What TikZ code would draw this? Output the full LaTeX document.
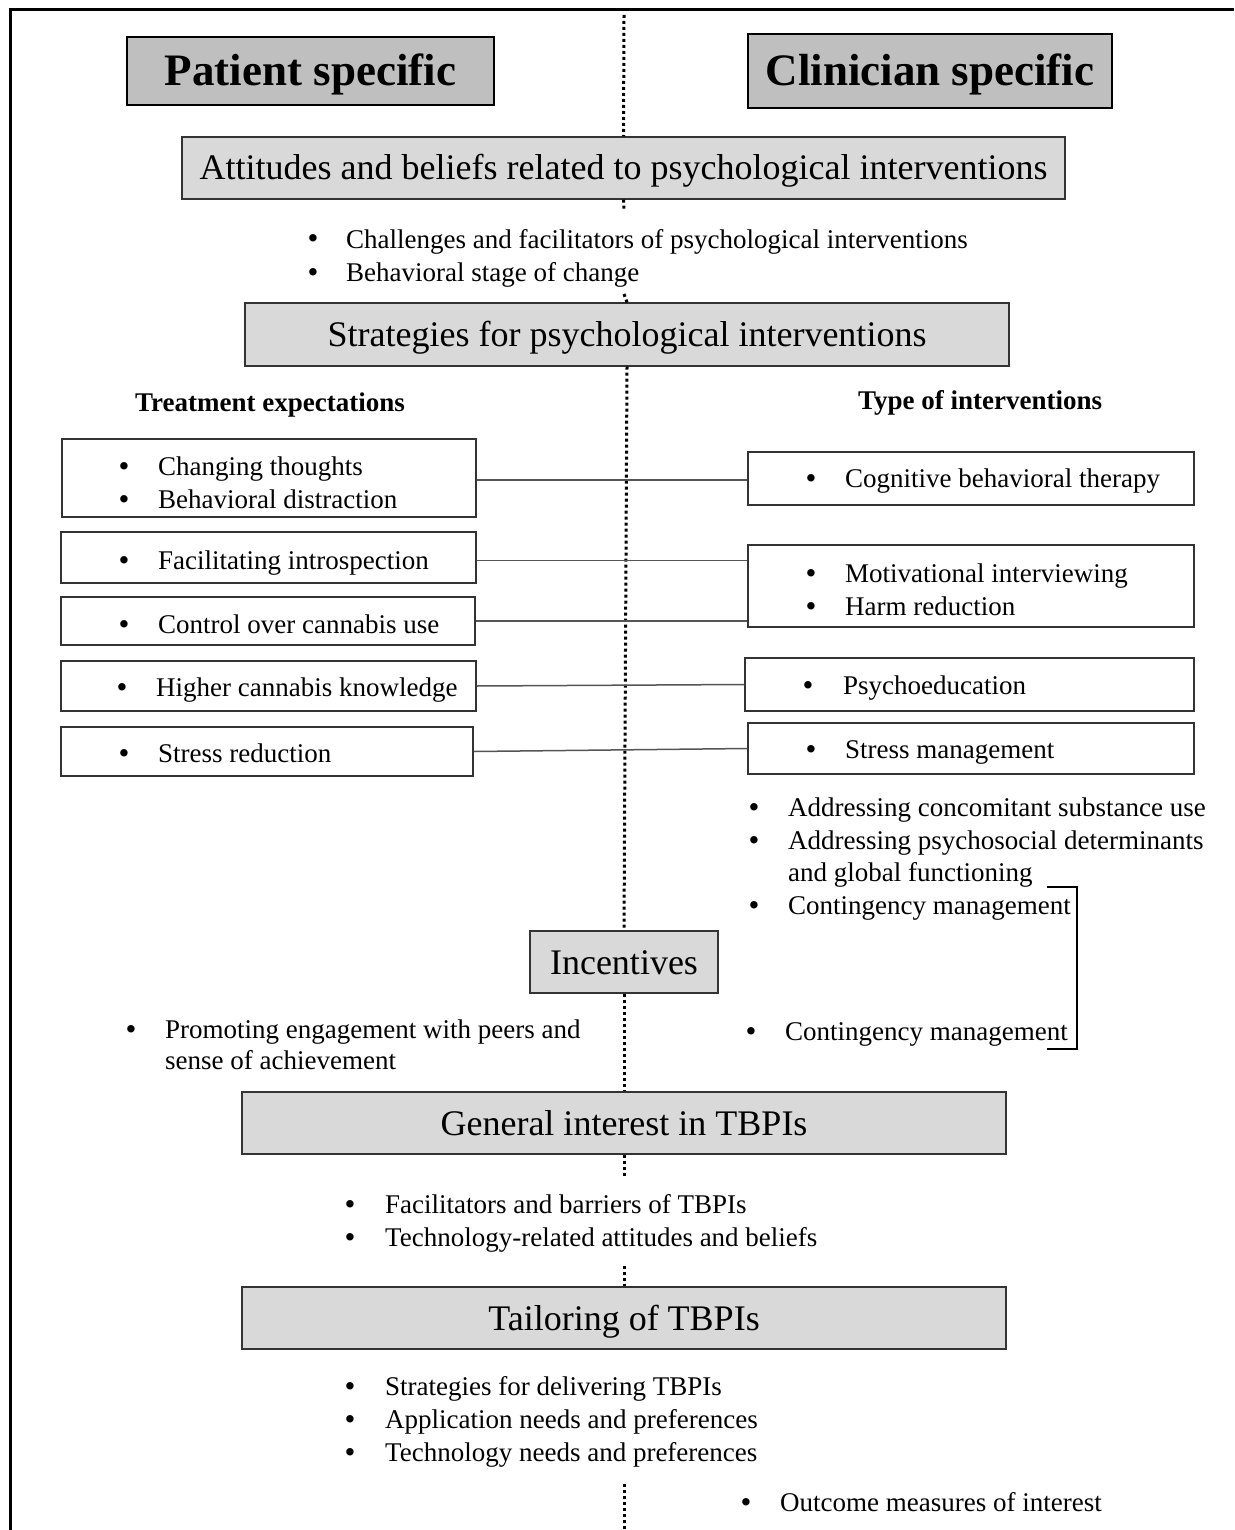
\documentclass[tikz,border=0pt]{standalone}
\usepackage{fontspec}
\setmainfont{Liberation Serif}
\definecolor{hdrgray}{HTML}{BFBFBF}
\definecolor{secgray}{HTML}{D9D9D9}
\definecolor{boxline}{HTML}{333333}
\definecolor{conncol}{HTML}{555555}
\newcommand{\bulletmark}{\makebox[0pt]{•}}
\begin{document}
\begin{tikzpicture}[x=1pt,y=-1pt,
  hdr/.style={draw=black, line width=2pt, fill=hdrgray, inner sep=0pt, text height=30pt, text depth=0pt, font=\fontsize{45}{50}\selectfont\bfseries},
  sec/.style={draw=boxline, line width=1.3pt, fill=secgray, inner sep=0pt, text height=24pt, text depth=0pt, font=\fontsize{36}{40}\selectfont},
  ibox/.style={draw=boxline, line width=1.5pt, fill=white, inner sep=0pt},
  txt/.style={anchor=base west, inner sep=0pt, font=\fontsize{27}{33}\selectfont},
  btxt/.style={anchor=base west, inner sep=0pt, font=\fontsize{27}{33}\selectfont\bfseries},
  bul/.style={anchor=base, inner sep=0pt, font=\fontsize{31}{33}\selectfont},
  conn/.style={draw=conncol, line width=1.5pt},
  divider/.style={line width=3pt, dash pattern=on 3pt off 3pt},
  frame/.style={line width=3pt},
  bracketline/.style={line width=2pt}
]
\useasboundingbox (0,0) rectangle (1234,1530);

% outer frame
\coordinate (fbl) at (10,1530);
\coordinate (ftl) at (10,10);
\coordinate (ftr) at (1234,10);
\draw[frame] (fbl) -- (ftl) -- (ftr);

% headers
\node[hdr, minimum width=367pt, minimum height=68pt] (pat) at (310.5,71) {Patient specific};
\node[hdr, minimum width=364pt, minimum height=74pt] (cli) at (930,71) {Clinician specific};

% section boxes
\node[sec, minimum width=883pt, minimum height=62pt] (att) at (623.5,168) {Attitudes and beliefs related to psychological interventions};
\node[sec, minimum width=764pt, minimum height=63pt] (str) at (627,334.5) {Strategies for psychological interventions};
\node[sec, minimum width=188pt, minimum height=62pt] (inc) at (624,962) {Incentives};
\node[sec, minimum width=764pt, minimum height=62pt] (gen) at (624,1123) {General interest in TBPIs};
\node[sec, minimum width=764pt, minimum height=62pt] (tai) at (624,1318) {Tailoring of TBPIs};

% divider segments
\coordinate (d0) at (624,15);
\coordinate (d1) at (624,210);
\coordinate (d2) at (624,294);
\coordinate (d3) at (624,1176);
\coordinate (d4) at (624,1266);
\coordinate (d5) at (624,1484);
\coordinate (d6) at (624,1530);
\draw[divider] (d0) -- (att.north);
\draw[divider] (att.south) -- (d1);
\draw[divider] (d2) -- (str.north);
\draw[divider] (str.south) -- (inc.north);
\draw[divider] (inc.south) -- (gen.north);
\draw[divider] (gen.south) -- (d3);
\draw[divider] (d4) -- (tai.north);
\draw[divider] (d5) -- (d6);

% attitudes bullets
\node[bul] (ab1) at (313,249) {\bulletmark};
\node[txt] (at1) at (346,248) {Challenges and facilitators of psychological interventions};
\node[bul] (ab2) at (313,282) {\bulletmark};
\node[txt] (at2) at (346,281) {Behavioral stage of change};

% column titles
\node[btxt] (tte) at (135,411) {Treatment expectations};
\node[btxt] (toi) at (858,409) {Type of interventions};

% left boxes
\node[ibox, minimum width=414pt, minimum height=78pt] (L1) at (269,478) {};
\node[ibox, minimum width=415pt, minimum height=51pt] (L2) at (268.5,557.5) {};
\node[ibox, minimum width=414pt, minimum height=48pt] (L3) at (268,621) {};
\node[ibox, minimum width=415pt, minimum height=50pt] (L4) at (268.5,686) {};
\node[ibox, minimum width=412pt, minimum height=49pt] (L5) at (267,751.5) {};
% right boxes
\node[ibox, minimum width=446pt, minimum height=53pt] (R1) at (971,478.5) {};
\node[ibox, minimum width=446pt, minimum height=82pt] (R2) at (971,586) {};
\node[ibox, minimum width=449pt, minimum height=53pt] (R3) at (969.5,684.5) {};
\node[ibox, minimum width=446pt, minimum height=51pt] (R4) at (971,748.5) {};

% left box texts
\node[bul] (l1b1) at (124,476) {\bulletmark};
\node[txt] (l1t1) at (158,475) {Changing thoughts};
\node[bul] (l1b2) at (124,509) {\bulletmark};
\node[txt] (l1t2) at (158,508) {Behavioral distraction};
\node[bul] (l2b) at (124,570) {\bulletmark};
\node[txt] (l2t) at (158,569) {Facilitating introspection};
\node[bul] (l3b) at (124,634) {\bulletmark};
\node[txt] (l3t) at (158,633) {Control over cannabis use};
\node[bul] (l4b) at (122,697) {\bulletmark};
\node[txt] (l4t) at (156,696) {Higher cannabis knowledge};
\node[bul] (l5b) at (124,763) {\bulletmark};
\node[txt] (l5t) at (158,762) {Stress reduction};

% right box texts
\node[bul] (r1b) at (811,488) {\bulletmark};
\node[txt] (r1t) at (845,487) {Cognitive behavioral therapy};
\node[bul] (r2b1) at (811,583) {\bulletmark};
\node[txt] (r2t1) at (845,582) {Motivational interviewing};
\node[bul] (r2b2) at (811,616) {\bulletmark};
\node[txt] (r2t2) at (845,615) {Harm reduction};
\node[bul] (r3b) at (808,695) {\bulletmark};
\node[txt] (r3t) at (843,694) {Psychoeducation};
\node[bul] (r4b) at (811,759) {\bulletmark};
\node[txt] (r4t) at (845,758) {Stress management};

% connectors
\draw[conn] ([yshift=-2pt]L1.east) -- ([yshift=-2pt]L1.east -| R1.west);
\draw[conn] ([yshift=-3pt]L2.east) -- ([yshift=-3pt]L2.east -| R2.west);
\draw[conn] (L3.east) -- (L3.east -| R2.west);
\draw[conn] (L4.east) -- (R3.west);
\draw[conn] (L5.east) -- (R4.west);

% right free bullets
\node[bul] (rb1) at (754,817) {\bulletmark};
\node[txt] (rt1) at (788,816) {Addressing concomitant substance use};
\node[bul] (rb2) at (754,850) {\bulletmark};
\node[txt] (rt2) at (788,849) {Addressing psychosocial determinants};
\node[txt] (rt3) at (788,881) {and global functioning};
\node[bul] (rb4) at (754,915) {\bulletmark};
\node[txt] (cm1) at (788,914) {Contingency management};

% incentives bullets
\node[bul] (pb) at (131,1039) {\bulletmark};
\node[txt] (pt1) at (165,1038) {Promoting engagement with peers and};
\node[txt] (pt2) at (165,1069) {sense of achievement};
\node[bul] (cb2) at (751,1041) {\bulletmark};
\node[txt] (cm2) at (785,1040) {Contingency management};

% bracket
\coordinate (brA) at (1047,887);
\coordinate (brB) at (1077,887);
\coordinate (brC) at (1077,1049);
\coordinate (brD) at (1047,1049);
\draw[bracketline] (brA) -- (brB) -- (brC) -- (brD);

% general bullets
\node[bul] (gb1) at (350,1214) {\bulletmark};
\node[txt] (gt1) at (385,1213) {Facilitators and barriers of TBPIs};
\node[bul] (gb2) at (350,1247) {\bulletmark};
\node[txt] (gt2) at (385,1246) {Technology-related attitudes and beliefs};

% tailoring bullets
\node[bul] (tb1) at (350,1396) {\bulletmark};
\node[txt] (tt1) at (385,1395) {Strategies for delivering TBPIs};
\node[bul] (tb2) at (350,1429) {\bulletmark};
\node[txt] (tt2) at (385,1428) {Application needs and preferences};
\node[bul] (tb3) at (350,1462) {\bulletmark};
\node[txt] (tt3) at (385,1461) {Technology needs and preferences};

% outcome
\node[bul] (ob) at (746,1512) {\bulletmark};
\node[txt] (ot) at (780,1511) {Outcome measures of interest};
\end{tikzpicture}
\end{document}
